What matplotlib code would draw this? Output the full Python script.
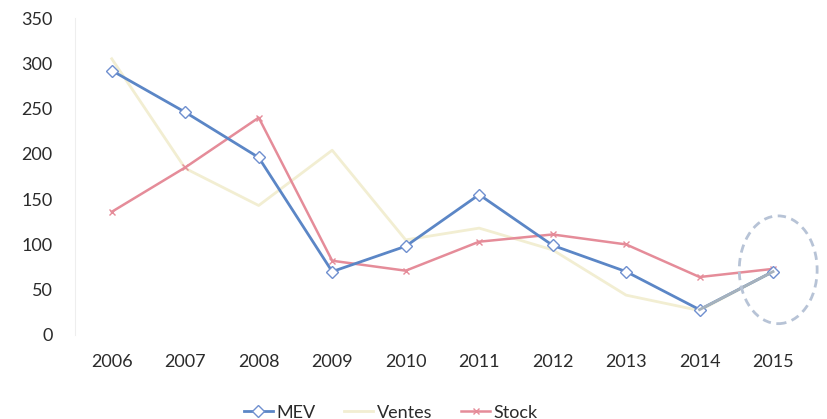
import matplotlib
matplotlib.use('Agg')
from matplotlib import pyplot as plt
from matplotlib.patches import Ellipse

years = ['2006', '2007', '2008', '2009', '2010', '2011', '2012', '2013', '2014', '2015']
mev = [292, 246, 196, 70, 98, 155, 99, 70, 28, 70]
ventes = [305, 184, 143, 204, 105, 118, 94, 44, 27, 70]
stock = [136, 185, 240, 82, 71, 103, 111, 100, 64, 73]
yticks = [0, 50, 100, 150, 200, 250, 300, 350]


def main():
    plt.rcParams['font.family'] = ['Lato', 'DejaVu Sans']
    fig = plt.figure(figsize=(8.28, 4.19), dpi=100)
    ax = fig.add_axes([0.0906, 0.2005, 0.8874, 0.7565])

    x = list(range(len(years)))

    ax.plot(x, ventes, color='#f2eed2', linewidth=2, label='Ventes', zorder=2)
    ax.plot(x, stock, color='#e58c99', linewidth=1.8, marker='x', markersize=4,
            label='Stock', zorder=3)
    ax.plot(x, mev, color='#5b86c6', linewidth=2, marker='D', markersize=6,
            markerfacecolor='white', markeredgecolor='#6f8fcf', label='MEV', zorder=4)
    # last segment looks greyish in the scan
    ax.plot(x[8:], mev[8:], color='#a6b2bd', linewidth=2, zorder=4)

    # dashed ring round 2015
    ring = Ellipse((9.07, 72), 1.06, 119, fill=False, edgecolor='#b7c3d6',
                   linestyle=(0, (3, 2)), linewidth=2, clip_on=False, zorder=5)
    ax.add_patch(ring)

    ax.set_xlim(-0.5, 9.5)
    ax.set_ylim(0, 350)
    ax.set_xticks(x)
    ax.set_xticklabels(years)
    ax.set_yticks(yticks)
    ax.tick_params(length=0, labelsize=13, colors='#2b2b2b', pad=14)
    ax.tick_params(axis='y', pad=16)

    for s in ['top', 'right', 'bottom']:
        ax.spines[s].set_visible(False)
    ax.spines['left'].set_color('#eeeeee')

    handles, labels = ax.get_legend_handles_labels()
    order = [2, 0, 1]
    ax.legend([handles[i] for i in order], [labels[i] for i in order],
              loc='center', bbox_to_anchor=(0.43, -0.245), ncol=3,
              frameon=False, fontsize=13, handlelength=1.6, columnspacing=1.6,
              handletextpad=0.2, labelcolor='#2b2b2b', borderpad=0)

    plt.savefig('out.png', dpi=100)


if __name__ == '__main__':
    main()
